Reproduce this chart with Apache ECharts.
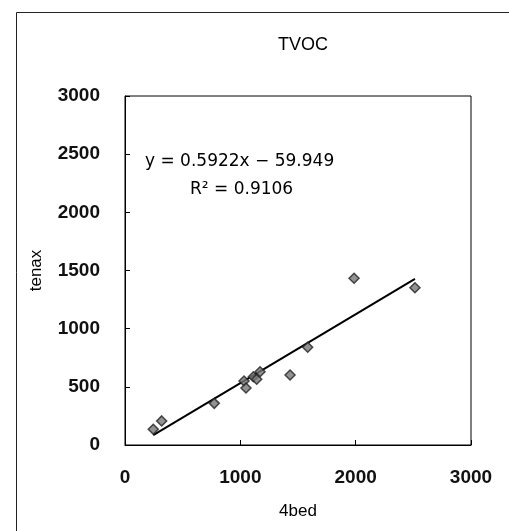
<!DOCTYPE html>
<html>
<head>
<meta charset="utf-8">
<script src="https://cdn.jsdelivr.net/npm/echarts@6/dist/echarts.min.js"></script>
<style>
  html, body { margin: 0; padding: 0; background: #fff; }
  #main { width: 509px; height: 531px; }
</style>
</head>
<body>
<div id="main"></div>
<script>
// 4bed (x) vs tenax (y), TVOC
var bedValues = [245, 318, 774, 1032, 1049, 1113, 1142, 1171, 1431, 1584, 1986, 2514];
var tenaxValues = [135, 207, 358, 550, 490, 587, 565, 630, 602, 840, 1433, 1352];
var xTicks = [0, 1000, 2000, 3000];
var yTicks = [0, 500, 1000, 1500, 2000, 2500, 3000];
var slope = 0.5922;
var intercept = -59.949;

var points = bedValues.map(function (v, i) { return [v, tenaxValues[i]]; });
var xMin = Math.min.apply(null, bedValues);
var xMax = Math.max.apply(null, bedValues);
var trend = [[xMin, slope * xMin + intercept], [xMax, slope * xMax + intercept]];

var plain = function (v) { return String(v); };

var dom = echarts.init(document.getElementById('main'));

var option = {
  backgroundColor: '#fff',
  animation: false,
  title: {
    text: 'TVOC',
    left: 298,
    top: 31,
    textAlign: 'center',
    textStyle: { fontFamily: 'Liberation Sans', fontSize: 18, fontWeight: 'normal', color: '#000' }
  },
  grid: {
    left: 125, right: 38, top: 96, bottom: 86,
    show: true, borderColor: '#000', borderWidth: 1
  },
  xAxis: {
    type: 'value',
    min: xTicks[0], max: xTicks[xTicks.length - 1], interval: 1000,
    name: '4bed', nameLocation: 'middle', nameGap: 58,
    nameTextStyle: { fontFamily: 'Liberation Sans', fontSize: 17, color: '#000' },
    axisLine: { lineStyle: { color: '#000' } },
    axisTick: { inside: true, length: 5, lineStyle: { color: '#000' } },
    axisLabel: { margin: 23, formatter: plain, fontFamily: 'Liberation Sans', fontSize: 19, fontWeight: 'bold', color: '#111' },
    splitLine: { show: false }
  },
  yAxis: {
    type: 'value',
    min: yTicks[0], max: yTicks[yTicks.length - 1], interval: 500,
    name: 'tenax', nameLocation: 'middle', nameGap: 80, nameRotate: 90,
    nameTextStyle: { fontFamily: 'Liberation Sans', fontSize: 17, color: '#000' },
    axisLine: { lineStyle: { color: '#000' } },
    axisTick: { inside: true, length: 5, lineStyle: { color: '#000' } },
    axisLabel: { margin: 25, formatter: plain, fontFamily: 'Liberation Sans', fontSize: 19, fontWeight: 'bold', color: '#111' },
    splitLine: { show: false }
  },
  graphic: [
    {
      type: 'rect', silent: true,
      shape: { x: 16.5, y: 12.5, width: 600, height: 600 },
      style: { fill: 'none', stroke: '#222', lineWidth: 1 }
    },
    {
      type: 'text', left: 145, top: 153,
      style: { text: 'y = 0.5922x \u2212 59.949', font: '17px "DejaVu Sans"', fill: '#000' }
    },
    {
      type: 'text', left: 190, top: 181,
      style: { text: 'R\u00b2 = 0.9106', font: '17px "DejaVu Sans"', fill: '#000' }
    }
  ],
  series: [
    {
      type: 'scatter',
      data: points,
      symbol: 'diamond',
      symbolSize: 10,
      itemStyle: { color: '#777', borderColor: '#222', borderWidth: 1.5 },
      z: 3
    },
    {
      type: 'line',
      data: trend,
      symbol: 'none',
      lineStyle: { color: '#000', width: 2 },
      z: 2
    }
  ]
};

dom.setOption(option);
</script>
</body>
</html>
